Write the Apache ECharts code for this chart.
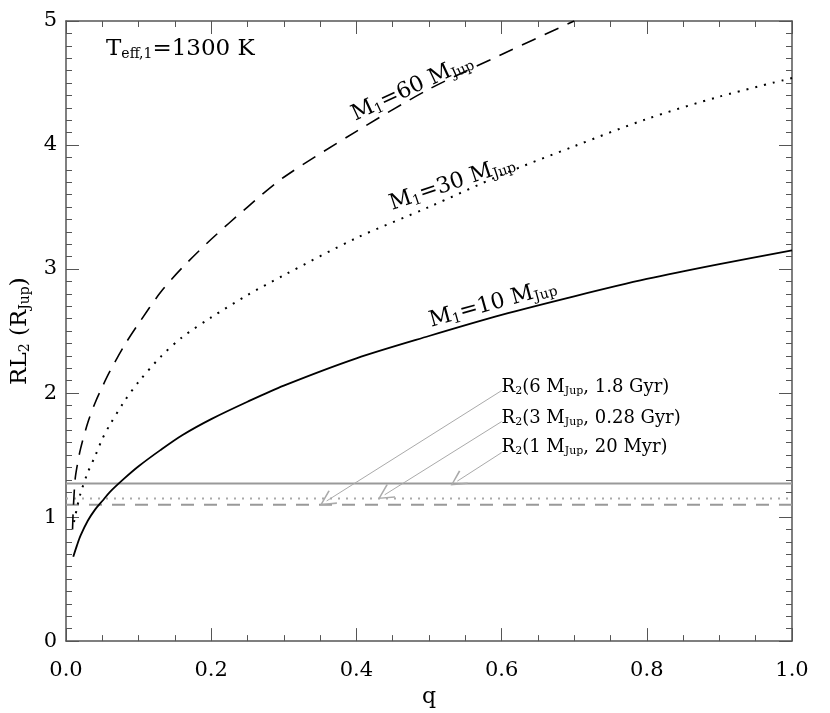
<!DOCTYPE html>
<html>
<head>
<meta charset="utf-8">
<script src="https://cdn.jsdelivr.net/npm/echarts@6/dist/echarts.min.js"></script>
<style>
html,body{margin:0;padding:0;background:#fff}
#main{width:830px;height:713px}
</style>
</head>
<body>
<div id="main"></div>
<script>
// curves: q and RL2 (R_Jup)
var q10  = [0.01, 0.015, 0.02, 0.03, 0.04, 0.05, 0.06, 0.08, 0.10, 0.13, 0.16, 0.2, 0.25, 0.3, 0.4, 0.5, 0.6, 0.7, 0.8, 0.9, 1.0];
var rl10 = [0.68, 0.77, 0.85, 0.97, 1.06, 1.13, 1.20, 1.31, 1.41, 1.54, 1.66, 1.79, 1.93, 2.06, 2.28, 2.46, 2.63, 2.78, 2.92, 3.04, 3.15];

var q30  = [0.011, 0.015, 0.02, 0.03, 0.04, 0.05, 0.06, 0.08, 0.10, 0.13, 0.16, 0.2, 0.25, 0.3, 0.4, 0.5, 0.6, 0.7, 0.8, 0.9, 1.0];
var rl30 = [0.96, 1.07, 1.19, 1.36, 1.49, 1.63, 1.74, 1.93, 2.09, 2.29, 2.45, 2.61, 2.79, 2.95, 3.25, 3.50, 3.76, 3.99, 4.21, 4.39, 4.54];

var q60  = [0.009, 0.01, 0.0125, 0.015, 0.02, 0.03, 0.04, 0.05, 0.06, 0.08, 0.10, 0.13, 0.16, 0.2, 0.25, 0.3, 0.4, 0.5, 0.6, 0.7];
var rl60 = [0.90, 1.06, 1.30, 1.40, 1.55, 1.76, 1.92, 2.05, 2.17, 2.38, 2.56, 2.81, 3.01, 3.24, 3.50, 3.74, 4.11, 4.45, 4.73, 5.0];

// R2 levels (solid, dotted, dashed grey lines)
var r2Levels = [1.27, 1.15, 1.10];
var r2Text = [
  '{n|R}{s|2}{n|(6 M}{s|Jup}{n|, 1.8 Gyr)}',
  '{n|R}{s|2}{n|(3 M}{s|Jup}{n|, 0.28 Gyr)}',
  '{n|R}{s|2}{n|(1 M}{s|Jup}{n|, 20 Myr)}'
];
var r2TextAt = [[0.6, 2.05], [0.6, 1.80], [0.6, 1.56]];
var arrowFrom = [[0.6, 2.02], [0.6, 1.77], [0.6, 1.52]];
var arrowTo   = [[0.359, 1.13], [0.439, 1.18], [0.539, 1.29]];

var FONT = 'DejaVu Serif';
function rich(size) {
  return {
    n: { fontSize: size, fontFamily: FONT, color: '#000', fontWeight: 'normal' },
    s: { fontSize: Math.round(size * 0.62), fontFamily: FONT, color: '#000', fontWeight: 'normal',
         padding: [Math.round(size * 0.45), 0, 0, 0] }
  };
}
function zip(a, b) {
  var out = [];
  for (var i = 0; i < a.length; i++) out.push([a[i], b[i]]);
  return out;
}
function curveLabel(q, v, angle, txt) {
  return {
    coord: [q, v],
    label: { show: true, position: 'inside', rotate: angle, formatter: txt, rich: rich(22) }
  };
}

var chart = echarts.init(document.getElementById('main'));

var axisCol = '#555';
function xAxisCfg(pos, labels) {
  return {
    type: 'value', position: pos, min: 0, max: 1, interval: 0.2,
    axisLine: { show: true, onZero: false, lineStyle: { color: axisCol, width: 1.5 } },
    axisTick: { show: true, inside: true, length: 13, lineStyle: { color: axisCol } },
    minorTick: { show: true, splitNumber: 4, length: 6, lineStyle: { color: axisCol } },
    splitLine: { show: false },
    axisLabel: {
      show: labels, margin: 19, color: '#000', fontSize: 21, fontFamily: FONT,
      formatter: function (v) { return v.toFixed(1); }
    },
    name: labels ? 'q' : '', nameLocation: 'middle', nameGap: 38,
    nameTextStyle: { fontSize: 22, fontFamily: FONT, color: '#000' }
  };
}
function yAxisCfg(pos, labels) {
  return {
    type: 'value', position: pos, min: 0, max: 5, interval: 1,
    axisLine: { show: true, onZero: false, lineStyle: { color: axisCol, width: 1.5 } },
    axisTick: { show: true, inside: true, length: 13, lineStyle: { color: axisCol } },
    minorTick: { show: true, splitNumber: 10, length: 6, lineStyle: { color: axisCol } },
    splitLine: { show: false },
    axisLabel: { show: labels, margin: 9, color: '#000', fontSize: 21, fontFamily: FONT },
    name: labels ? '{n|RL}{s|2}{n| (R}{s|Jup}{n|)}' : '', nameLocation: 'middle', nameGap: 34,
    nameTextStyle: { rich: rich(23) }
  };
}

var option = {
  animation: false,
  backgroundColor: '#fff',
  textStyle: { fontFamily: FONT },
  title: {
    text: '{n|T}{s|eff,1}{n|=1300 K}',
    left: 101, top: 32,
    textStyle: { fontWeight: 'normal', rich: rich(23) }
  },
  grid: { left: 66, right: 38, top: 21, bottom: 63, containLabel: false },
  xAxis: [xAxisCfg('bottom', true), xAxisCfg('top', false)],
  yAxis: [yAxisCfg('left', true), yAxisCfg('right', false)],
  series: [
    {
      name: 'R2 6MJup', type: 'line', data: [[0, r2Levels[0]], [1, r2Levels[0]]],
      showSymbol: false, silent: true, z: 1,
      lineStyle: { color: '#999', width: 2, type: 'solid' },
      markLine: {
        silent: true, symbol: ['none', 'path://M0,0L6,12L5,12.8L0,2.4L-5,12.8L-6,12Z'],
        symbolSize: 16, label: { show: false },
        lineStyle: { color: '#aaa', width: 1, type: 'solid' },
        data: arrowFrom.map(function (p, i) { return [{ coord: p }, { coord: arrowTo[i] }]; })
      },
      markPoint: {
        silent: true, symbol: 'circle', symbolSize: 0,
        data: r2TextAt.map(function (p, i) {
          return { coord: p, label: { show: true, position: 'right', distance: 0, formatter: r2Text[i], rich: rich(18) } };
        })
      }
    },
    {
      name: 'R2 3MJup', type: 'line', data: [[0, r2Levels[1]], [1, r2Levels[1]]],
      showSymbol: false, silent: true, z: 1,
      lineStyle: { color: '#aaa', width: 2, type: [2, 6] }
    },
    {
      name: 'R2 1MJup', type: 'line', data: [[0, r2Levels[2]], [1, r2Levels[2]]],
      showSymbol: false, silent: true, z: 1,
      lineStyle: { color: '#999', width: 2, type: [13, 10] }
    },
    {
      name: 'M1=10', type: 'line', data: zip(q10, rl10), smooth: 0.3,
      showSymbol: false, silent: true, z: 3, clip: true,
      lineStyle: { color: '#000', width: 1.8 },
      markPoint: { silent: true, symbol: 'circle', symbolSize: 0,
        data: [curveLabel(0.588, 2.72, 15.4, '{n|M}{s|1}{n|=10 M}{s|Jup}')] }
    },
    {
      name: 'M1=30', type: 'line', data: zip(q30, rl30), smooth: 0.3,
      showSymbol: false, silent: true, z: 3, clip: true,
      lineStyle: { color: '#000', width: 2, type: [2, 7] },
      markPoint: { silent: true, symbol: 'circle', symbolSize: 0,
        data: [curveLabel(0.532, 3.69, 18.7, '{n|M}{s|1}{n|=30 M}{s|Jup}')] }
    },
    {
      name: 'M1=60', type: 'line', data: zip(q60, rl60), smooth: 0.3,
      showSymbol: false, silent: true, z: 3, clip: true,
      lineStyle: { color: '#000', width: 1.6, type: [15, 10] },
      markPoint: { silent: true, symbol: 'circle', symbolSize: 0,
        data: [curveLabel(0.477, 4.46, 25, '{n|M}{s|1}{n|=60 M}{s|Jup}')] }
    }
  ]
};

chart.setOption(option);
</script>
</body>
</html>
